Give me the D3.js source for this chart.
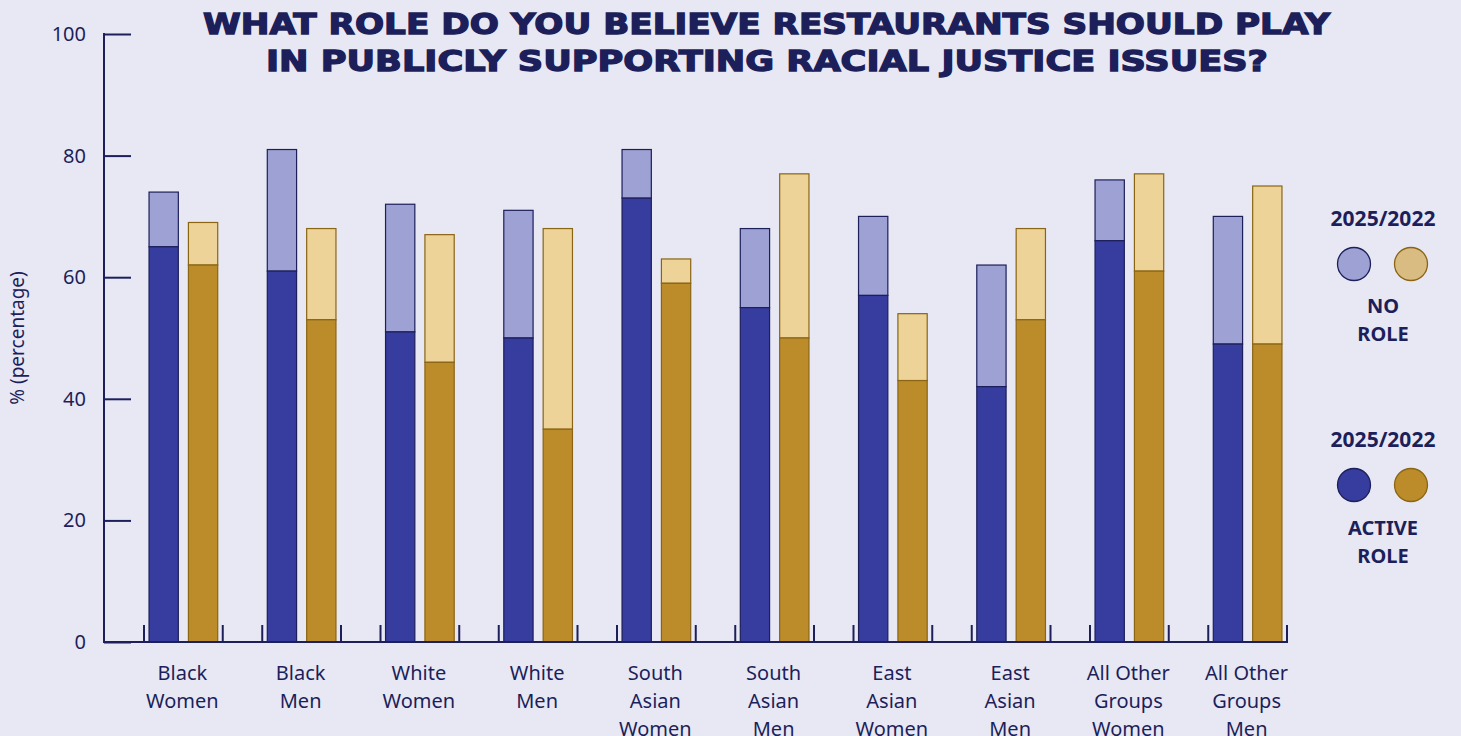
<!DOCTYPE html>
<html><head><meta charset="utf-8">
<script src="https://cdn.jsdelivr.net/npm/d3@7"></script>
<style>
html,body{margin:0;padding:0;background:#e8e8f4;}
svg{display:block;}
</style></head>
<body>
<svg id="c" width="1461" height="736"></svg>
<script>
const categories = [["Black","Women"],["Black","Men"],["White","Women"],["White","Men"],["South","Asian","Women"],["South","Asian","Men"],["East","Asian","Women"],["East","Asian","Men"],["All Other","Groups","Women"],["All Other","Groups","Men"]];
const years = ["2025","2022"];
const active2025 = [65,61,51,50,73,55,57,42,66,49];
const noRole2025 = [9,20,21,21,8,13,13,20,10,21];
const active2022 = [62,53,46,35,59,50,43,53,61,49];
const noRole2022 = [7,15,21,33,4,27,11,15,16,26];
const yTicks = [0,20,40,60,80,100];
const titleLines = ["WHAT ROLE DO YOU BELIEVE RESTAURANTS SHOULD PLAY","IN PUBLICLY SUPPORTING RACIAL JUSTICE ISSUES?"];

const navy = "#1c1f5a";
const colors = {
  "2025": {active:"#373c9f", none:"#9da1d3", stroke:"#1c1f5a"},
  "2022": {active:"#bb8c29", none:"#edd398", stroke:"#8a6514"}
};
const svg = d3.select("#c");
const keys = categories.map(c=>c.join(" "));
const x = d3.scaleBand().domain(keys).range([144,1287]).paddingInner(0.334).paddingOuter(0);
const sub = d3.scaleBand().domain(years).range([0,x.bandwidth()]).paddingInner(0.256).paddingOuter(0.128);
const y = d3.scaleLinear().domain([0,100]).range([642,34]);

// bars
const data = [];
keys.forEach((k,i)=>{
  data.push({k, yr:"2025", a:active2025[i], n:noRole2025[i]});
  data.push({k, yr:"2022", a:active2022[i], n:noRole2022[i]});
});
const g = svg.append("g");
data.forEach(d=>{
  const bx = x(d.k)+sub(d.yr), bw = sub.bandwidth();
  const c = colors[d.yr];
  g.append("rect").attr("x",bx).attr("width",bw)
    .attr("y",y(d.a+d.n)).attr("height",y(d.a)-y(d.a+d.n))
    .attr("fill",c.none).attr("stroke",c.stroke).attr("stroke-width",1.2);
  g.append("rect").attr("x",bx).attr("width",bw)
    .attr("y",y(d.a)).attr("height",y(0)-y(d.a))
    .attr("fill",c.active).attr("stroke",c.stroke).attr("stroke-width",1.2);
});

// y axis
const yAxis = d3.axisRight(y).tickValues(yTicks).tickSize(27).tickFormat("");
const ya = svg.append("g").attr("transform","translate(104,0)").call(yAxis);
ya.select(".domain").remove();
ya.selectAll(".tick line").attr("stroke",navy).attr("stroke-width",2);
ya.append("line").attr("x1",0).attr("x2",0).attr("y1",y(100)-1).attr("y2",y(0)+1).attr("stroke",navy).attr("stroke-width",2);
svg.append("g").selectAll("text").data(yTicks).join("text")
  .attr("x",86).attr("y",d=>y(d)+7).attr("text-anchor","end")
  .attr("font-family","'Noto Sans', sans-serif").attr("font-size",20).attr("fill",navy)
  .text(d=>d);

// x axis
const xa = svg.append("g");
xa.append("line").attr("x1",104).attr("x2",1288).attr("y1",y(0)).attr("y2",y(0)).attr("stroke",navy).attr("stroke-width",2);
keys.forEach(k=>{
  [x(k), x(k)+x.bandwidth()].forEach(px=>{
    xa.append("line").attr("x1",px).attr("x2",px).attr("y1",y(0)).attr("y2",y(0)-17).attr("stroke",navy).attr("stroke-width",2);
  });
});
const xl = svg.append("g");
categories.forEach((c,i)=>{
  const cx = x(keys[i])+x.bandwidth()/2 - 1;
  const t = xl.append("text").attr("text-anchor","middle")
    .attr("font-family","'Noto Sans', sans-serif").attr("font-size",20).attr("fill",navy);
  c.forEach((line,j)=>{
    t.append("tspan").attr("x",cx).attr("y",680+j*28).text(line);
  });
});

// y label
svg.append("text").attr("transform","translate(24,338) rotate(-90)")
  .attr("text-anchor","middle").attr("font-family","'Noto Sans', sans-serif")
  .attr("font-size",19).attr("fill",navy).text("% (percentage)");

// title
const tl = [{t:titleLines[0], y:34, x1:203, x2:1330},{t:titleLines[1], y:71, x1:266, x2:1268}];
tl.forEach(l=>{
  svg.append("g").attr("transform",`translate(${l.x1},${l.y}) scale(1,1.12)`)
    .append("text").attr("x",0).attr("y",0)
    .attr("font-family","'DejaVu Sans', sans-serif").attr("font-weight",900)
    .attr("font-size",26).attr("fill",navy).attr("stroke",navy).attr("stroke-width",1.2)
    .attr("textLength",l.x2-l.x1).attr("lengthAdjust","spacingAndGlyphs")
    .text(l.t);
});

// legend
const lg = svg.append("g");
const legendItems = [
  {head:226, cy:264, lines:["NO","ROLE"], ly:313, fills:["#9da1d3","#d9bc82"]},
  {head:447, cy:485, lines:["ACTIVE","ROLE"], ly:535, fills:["#373c9f","#bb8c29"]}
];
legendItems.forEach(it=>{
  lg.append("text").attr("x",1383).attr("y",it.head).attr("text-anchor","middle")
    .attr("font-family","'Noto Sans', sans-serif").attr("font-weight",700)
    .attr("font-size",21).attr("fill",navy).text("2025/2022");
  [1354,1411].forEach((cx,j)=>{
    lg.append("circle").attr("cx",cx).attr("cy",it.cy).attr("r",16.5)
      .attr("fill",it.fills[j]).attr("stroke",colors[years[j]].stroke).attr("stroke-width",1.3);
  });
  it.lines.forEach((ln,j)=>{
    lg.append("text").attr("x",1383).attr("y",it.ly+j*28).attr("text-anchor","middle")
      .attr("font-family","'Noto Sans', sans-serif").attr("font-weight",700)
      .attr("font-size",20).attr("fill",navy).text(ln);
  });
});
</script>
</body></html>
